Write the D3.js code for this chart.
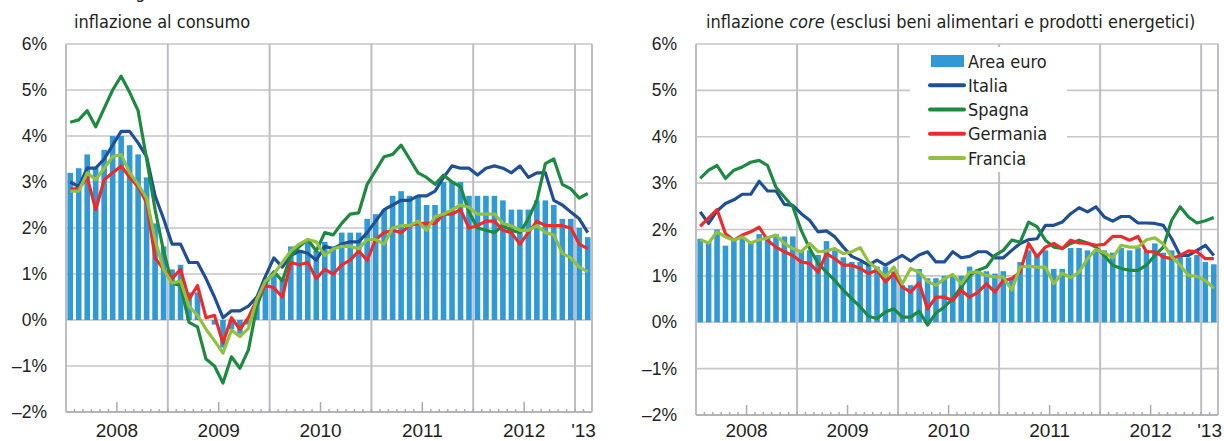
<!DOCTYPE html>
<html>
<head>
<meta charset="utf-8">
<script src="https://cdnjs.cloudflare.com/ajax/libs/d3/7.8.5/d3.min.js"></script>
<style>
  body { margin: 0; background: #fff; }
  svg { display: block; }
</style>
</head>
<body>
<div class="canvas"></div>
<script>
// mesi da gen 2008 a feb 2013 (62 osservazioni)
var mesi = d3.timeMonth.range(new Date(2008, 0, 1), new Date(2013, 2, 1));
var anni = ["2008", "2009", "2010", "2011", "2012", "'13"];
var yTicks = [-2, -1, 0, 1, 2, 3, 4, 5, 6];
var paesi = ["Italia", "Spagna", "Germania", "Francia"];

// ---- inflazione al consumo ----
var euroTot = [3.2, 3.3, 3.6, 3.3, 3.7, 4.0, 4.0, 3.8, 3.6, 3.1, 2.1, 1.6,
  1.1, 1.2, 0.6, 0.6, 0.0, -0.1, -0.6, -0.2, -0.3, -0.1, 0.5, 0.9,
  1.0, 0.9, 1.6, 1.5, 1.7, 1.5, 1.7, 1.6, 1.9, 1.9, 1.9, 2.2,
  2.3, 2.4, 2.7, 2.8, 2.7, 2.7, 2.5, 2.5, 3.0, 3.0, 3.0, 2.7,
  2.7, 2.7, 2.7, 2.6, 2.4, 2.4, 2.4, 2.6, 2.6, 2.5, 2.2, 2.2,
  2.0, 1.8];
var italiaTot = [3.0, 2.9, 3.3, 3.3, 3.5, 3.8, 4.1, 4.1, 3.85, 3.55, 2.7, 2.2,
  1.65, 1.65, 1.25, 1.25, 0.9, 0.5, 0.05, 0.2, 0.2, 0.3, 0.5, 0.95,
  1.35, 1.15, 1.4, 1.5, 1.45, 1.3, 1.6, 1.55, 1.65, 1.7, 1.7, 1.9,
  2.15, 2.4, 2.5, 2.6, 2.6, 2.7, 2.7, 2.8, 3.1, 3.35, 3.3, 3.3,
  3.15, 3.3, 3.35, 3.3, 3.2, 3.35, 3.1, 3.2, 3.2, 2.6, 2.5, 2.35,
  2.2, 1.9];
var spagnaTot = [4.3, 4.35, 4.55, 4.2, 4.6, 5.0, 5.3, 4.95, 4.55, 3.5, 2.4, 1.5,
  0.8, 0.75, -0.05, -0.15, -0.85, -1.0, -1.37, -0.8, -1.05, -0.65, 0.3, 0.8,
  1.05, 0.85, 1.4, 1.6, 1.75, 1.5, 1.9, 1.85, 2.1, 2.3, 2.33, 2.95,
  3.25, 3.55, 3.6, 3.8, 3.5, 3.2, 3.1, 2.95, 3.15, 3.0, 2.9, 2.35,
  2.0, 1.95, 1.9, 2.05, 1.95, 1.9, 2.2, 2.6, 3.4, 3.5, 2.95, 2.85,
  2.65, 2.75];
var germaniaTot = [2.85, 2.85, 3.1, 2.4, 3.05, 3.2, 3.35, 3.1, 2.9, 2.55, 1.35, 1.1,
  0.9, 1.1, 0.45, 0.75, 0.05, 0.1, -0.5, 0.05, -0.2, 0.05, 0.45, 0.75,
  0.7, 0.5, 1.25, 1.2, 1.25, 0.9, 1.1, 1.0, 1.2, 1.3, 1.5, 1.3,
  1.75, 1.9, 1.95, 1.9, 2.05, 2.1, 2.1, 2.1, 2.3, 2.3, 2.4, 2.0,
  2.05, 2.15, 2.15, 1.95, 1.9, 1.65, 1.9, 2.15, 2.05, 2.05, 2.05, 2.0,
  1.65, 1.55];
var franciaTot = [2.8, 2.8, 3.2, 3.05, 3.3, 3.55, 3.6, 3.2, 2.95, 2.65, 1.75, 1.1,
  0.8, 0.85, 0.3, 0.1, -0.2, -0.45, -0.72, -0.22, -0.36, -0.18, 0.45, 0.85,
  1.0, 1.25, 1.5, 1.65, 1.75, 1.7, 1.4, 1.55, 1.6, 1.6, 1.55, 1.75,
  1.75, 1.65, 2.0, 2.05, 2.05, 2.15, 1.95, 2.25, 2.3, 2.4, 2.5, 2.45,
  2.3, 2.3, 2.3, 2.1, 2.05, 1.95, 1.95, 2.05, 1.9, 1.85, 1.45, 1.35,
  1.15, 1.05];

// ---- inflazione core ----
var euroCore = [1.8, 1.75, 2.0, 1.65, 1.75, 1.8, 1.75, 1.9, 1.85, 1.9, 1.85, 1.85,
  1.55, 1.55, 1.45, 1.75, 1.55, 1.4, 1.3, 1.3, 1.25, 1.2, 1.2, 1.1,
  0.8, 0.8, 1.15, 0.95, 0.95, 1.0, 1.0, 1.0, 1.2, 1.15, 1.1, 1.05,
  1.1, 0.95, 1.3, 1.55, 1.45, 1.55, 1.15, 1.15, 1.6, 1.6, 1.55, 1.55,
  1.55, 1.5, 1.6, 1.55, 1.6, 1.55, 1.7, 1.5, 1.55, 1.45, 1.4, 1.45,
  1.3, 1.25];
var italiaCore = [2.38, 2.13, 2.4, 2.56, 2.64, 2.76, 2.76, 3.04, 2.83, 2.83, 2.54, 2.52,
  2.34, 2.2, 1.95, 1.97, 1.84, 1.62, 1.42, 1.34, 1.23, 1.34, 1.23, 1.34,
  1.44, 1.32, 1.45, 1.52, 1.3, 1.3, 1.52, 1.39, 1.42, 1.52, 1.52, 1.39,
  1.39, 1.55, 1.7, 1.78, 1.8, 2.09, 2.09, 2.16, 2.34, 2.47, 2.38, 2.49,
  2.27, 2.18, 2.28, 2.28, 2.14, 2.14, 2.13, 2.09, 1.8, 1.44, 1.44, 1.55,
  1.66, 1.44];
var spagnaCore = [3.1, 3.28, 3.38, 3.1, 3.28, 3.35, 3.45, 3.49, 3.38, 2.91, 2.7, 2.49,
  1.98, 1.59, 1.27, 1.08, 0.9, 0.69, 0.51, 0.33, 0.13, 0.08, 0.22, 0.29,
  0.11, 0.11, 0.24, -0.06, 0.2, 0.33, 0.51, 0.76, 1.01, 1.12, 1.19, 1.44,
  1.55, 1.77, 1.73, 2.16, 2.06, 1.77, 1.62, 1.59, 1.7, 1.77, 1.71, 1.62,
  1.44, 1.23, 1.16, 1.12, 1.12, 1.23, 1.44, 1.62, 2.2, 2.49, 2.27, 2.14,
  2.19, 2.26];
var germaniaCore = [2.07, 2.25, 2.43, 1.91, 1.77, 1.88, 1.95, 2.05, 1.77, 1.62, 1.52, 1.44,
  1.3, 1.27, 1.08, 1.48, 1.37, 1.23, 1.23, 1.16, 1.05, 1.12, 0.87, 1.05,
  0.76, 0.65, 0.85, 0.29, 0.54, 0.54, 0.47, 0.69, 0.54, 0.65, 0.83, 0.65,
  0.9, 0.94, 1.08, 1.7, 1.41, 1.62, 1.7, 1.59, 1.77, 1.71, 1.7, 1.66,
  1.68, 1.85, 1.85, 1.77, 1.85, 1.52, 1.52, 1.41, 1.37, 1.44, 1.54, 1.52,
  1.37, 1.37];
var franciaCore = [1.78, 1.71, 1.95, 1.84, 1.77, 1.84, 1.71, 1.78, 1.82, 1.88, 1.7, 1.59,
  1.52, 1.7, 1.52, 1.54, 1.59, 1.48, 1.52, 1.61, 1.3, 1.16, 0.98, 1.19,
  0.83, 1.16, 1.08, 0.88, 0.8, 0.94, 1.03, 0.83, 1.08, 1.08, 1.01, 0.98,
  0.98, 0.69, 1.19, 1.21, 1.19, 1.19, 0.83, 1.06, 0.96, 1.08, 1.37, 1.57,
  1.5, 1.39, 1.66, 1.62, 1.62, 1.78, 1.82, 1.69, 1.41, 1.23, 1.01, 0.99,
  0.9, 0.73];

var colori = {"Area euro": "#2f9ad6", "Italia": "#1f4f95", "Spagna": "#1e8a40",
  "Germania": "#ee2b2c", "Francia": "#92c03f"};
var grigio = "#c6c6cb";
var fontNarrow = "'Liberation Sans Narrow', 'DejaVu Sans Condensed', 'Noto Sans', sans-serif";
var fontAssi = "'Liberation Sans', Arial, sans-serif";

var width = 1224, height = 441;
var svg = d3.select('.canvas').append('svg')
  .attr('width', width)
  .attr('height', height);

// riga di intestazione tagliata in alto
svg.append('text')
  .attr('x', 9).attr('y', -2)
  .attr('font-family', fontNarrow).attr('font-size', 18).attr('fill', '#231f20')
  .text("(variazioni in ragione d'anno; dati mensili)");

function pannello(p) {
  var g = svg.append('g');
  var x = d3.scaleLinear().domain([0, mesi.length]).range([p.left, p.right]);
  var y = d3.scaleLinear().domain([-2, 6]).range([p.bottom, p.top]);
  var bw = (x(1) - x(0)) * 0.66;

  // griglia orizzontale
  g.selectAll('.hg').data(yTicks.slice(1)).enter().append('line')
    .attr('x1', p.left).attr('x2', p.right)
    .attr('y1', function(d) { return y(d); }).attr('y2', function(d) { return y(d); })
    .attr('stroke', grigio).attr('stroke-width', 1.6);

  // linee verticali tra gli anni + bordi
  g.selectAll('.vg').data([0, 12, 24, 36, 48, 60, 62]).enter().append('line')
    .attr('x1', function(d) { return x(d); }).attr('x2', function(d) { return x(d); })
    .attr('y1', p.top).attr('y2', p.bottom)
    .attr('stroke', "#bdbdc3").attr('stroke-width', 2);

  // asse x con tacche mensili
  g.append('line')
    .attr('x1', p.left).attr('x2', p.right).attr('y1', y(-2)).attr('y2', y(-2))
    .attr('stroke', "#b4b4ba").attr('stroke-width', 2);
  g.selectAll('.tk').data(d3.range(1, mesi.length)).enter().append('line')
    .attr('x1', function(d) { return x(d); }).attr('x2', function(d) { return x(d); })
    .attr('y1', y(-2)).attr('y2', function(d) { return d % 12 == 6 ? y(-2) - 10 : y(-2) - 3; })
    .attr('stroke', "#a9a9b0").attr('stroke-width', 1.5);

  // barre area euro
  g.selectAll('.bar').data(p.barre).enter().append('rect')
    .attr('x', function(d, i) { return x(i + 0.5) - bw / 2; })
    .attr('y', function(d) { return y(Math.max(0, d)); })
    .attr('width', bw)
    .attr('height', function(d) { return Math.abs(y(d) - y(0)); })
    .attr('fill', colori["Area euro"]);

  // linee paesi
  var linea = d3.line()
    .x(function(d, i) { return x(i + 0.5); })
    .y(function(d) { return y(d); });
  paesi.forEach(function(nome, k) {
    g.append('path')
      .attr('d', linea(p.linee[k]))
      .attr('fill', 'none')
      .attr('stroke', colori[nome])
      .attr('stroke-width', 3.2)
      .attr('stroke-linejoin', 'round');
  });

  // etichette asse y
  g.selectAll('.yl').data(yTicks).enter().append('text')
    .attr('x', p.left - 19)
    .attr('y', function(d) { return y(d) + 6; })
    .attr('text-anchor', 'end')
    .attr('font-family', fontAssi).attr('font-size', 17.5).attr('fill', '#231f20')
    .text(function(d) { return (d < 0 ? "\u2013" + (-d) : d) + "%"; });

  // etichette anni
  g.selectAll('.xl').data(anni).enter().append('text')
    .attr('x', function(d, i) { return i < 5 ? x(12 * i + 6) : x(61); })
    .attr('y', 437)
    .attr('text-anchor', 'middle')
    .attr('font-family', fontAssi).attr('font-size', 19).attr('fill', '#231f20')
    .text(function(d) { return d; });

  // titolo
  var t = g.append('text')
    .attr('x', p.titoloX).attr('y', 28)
    .attr('font-family', fontNarrow).attr('font-size', 18).attr('fill', '#231f20');
  p.titolo.forEach(function(pz) {
    t.append('tspan').attr('font-style', pz[1] ? 'italic' : 'normal').text(pz[0]);
  });
  return g;
}

pannello({left: 66, right: 592, top: 44, bottom: 412, titoloX: 74,
  titolo: [["inflazione al consumo", false]],
  barre: euroTot, linee: [italiaTot, spagnaTot, germaniaTot, franciaTot]});

var destra = pannello({left: 696, right: 1218, top: 44, bottom: 415, titoloX: 706,
  titolo: [["inflazione ", false], ["core", true], [" (esclusi beni alimentari e prodotti energetici)", false]],
  barre: euroCore, linee: [italiaCore, spagnaCore, germaniaCore, franciaCore]});

// legenda
var voci = ["Area euro"].concat(paesi);
var leg = destra.append('g');
leg.append('rect').attr('x', 910).attr('y', 47).attr('width', 157).attr('height', 125).attr('fill', '#fff');
var ly = d3.scalePoint().domain(voci).range([61, 158]);
voci.forEach(function(v, i) {
  if (i == 0) {
    leg.append('rect').attr('x', 931).attr('y', ly(v) - 6).attr('width', 33).attr('height', 12)
      .attr('fill', colori[v]);
  } else {
    leg.append('line').attr('x1', 930).attr('x2', 964).attr('y1', ly(v)).attr('y2', ly(v))
      .attr('stroke', colori[v]).attr('stroke-width', 4).attr('stroke-linecap', 'round');
  }
  leg.append('text').attr('x', 968).attr('y', ly(v) + 6.5)
    .attr('font-family', fontNarrow).attr('font-size', 18).attr('fill', '#231f20')
    .text(v);
});
</script>
</body>
</html>
